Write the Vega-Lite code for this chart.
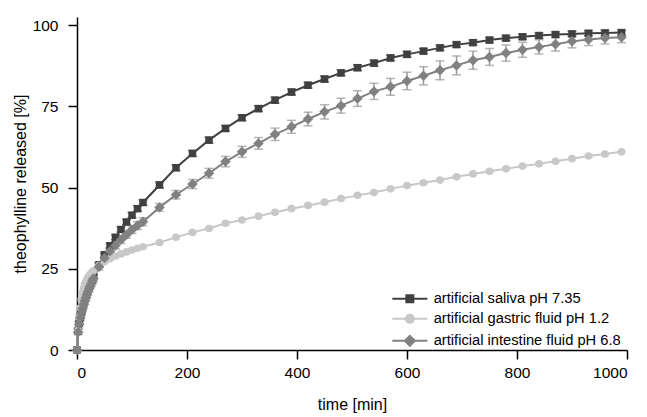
{
"$schema": "https://vega.github.io/schema/vega-lite/v6.json",
"width": 550, "height": 333,
"autosize": "none",
"padding": {"left": 77, "top": 17, "right": 20, "bottom": 67},
"background": "white",
"config": {
  "view": {"stroke": null},
  "font": "Liberation Sans",
  "axis": {"grid": false, "ticks": true, "domainColor": "#000", "domainWidth": 1.5, "tickColor": "#000", "tickWidth": 1.5, "tickSize": 9,
    "labelFont": "Liberation Sans", "labelFontSize": 15.5, "labelColor": "#000", "labelPadding": 6,
    "titleFont": "Liberation Sans", "titleFontSize": 16, "titleFontWeight": "normal", "titleColor": "#000"},
  "legend": {"labelFont": "Liberation Sans", "labelFontSize": 14.7, "labelColor": "#000", "labelLimit": 400}
},
"data": {"values": [
{"s":"artificial saliva pH 7.35","t":0,"v":0,"e":0},{"s":"artificial saliva pH 7.35","t":2,"v":5.9,"e":0.5},{"s":"artificial saliva pH 7.35","t":4,"v":8.3,"e":0.5},{"s":"artificial saliva pH 7.35","t":6,"v":10.2,"e":0.5},{"s":"artificial saliva pH 7.35","t":8,"v":11.7,"e":0.5},{"s":"artificial saliva pH 7.35","t":10,"v":13.1,"e":0.5},{"s":"artificial saliva pH 7.35","t":12,"v":14.4,"e":0.5},{"s":"artificial saliva pH 7.35","t":14,"v":15.5,"e":0.5},{"s":"artificial saliva pH 7.35","t":16,"v":16.6,"e":0.5},{"s":"artificial saliva pH 7.35","t":18,"v":17.6,"e":0.5},{"s":"artificial saliva pH 7.35","t":20,"v":18.6,"e":0.5},{"s":"artificial saliva pH 7.35","t":22,"v":19.5,"e":0.5},{"s":"artificial saliva pH 7.35","t":24,"v":20.3,"e":0.5},{"s":"artificial saliva pH 7.35","t":26,"v":21.2,"e":0.5},{"s":"artificial saliva pH 7.35","t":28,"v":22.0,"e":0.5},{"s":"artificial saliva pH 7.35","t":30,"v":22.7,"e":0.6},{"s":"artificial saliva pH 7.35","t":40,"v":26.2,"e":0.7},{"s":"artificial saliva pH 7.35","t":50,"v":29.3,"e":0.7},{"s":"artificial saliva pH 7.35","t":60,"v":32.1,"e":0.7},{"s":"artificial saliva pH 7.35","t":70,"v":34.7,"e":0.7},{"s":"artificial saliva pH 7.35","t":80,"v":37.1,"e":0.8},{"s":"artificial saliva pH 7.35","t":90,"v":39.4,"e":0.8},{"s":"artificial saliva pH 7.35","t":100,"v":41.5,"e":0.8},{"s":"artificial saliva pH 7.35","t":110,"v":43.5,"e":0.8},{"s":"artificial saliva pH 7.35","t":120,"v":45.4,"e":0.8},{"s":"artificial saliva pH 7.35","t":150,"v":50.8,"e":0.9},{"s":"artificial saliva pH 7.35","t":180,"v":56.1,"e":0.9},{"s":"artificial saliva pH 7.35","t":210,"v":60.5,"e":0.9},{"s":"artificial saliva pH 7.35","t":240,"v":64.6,"e":0.9},{"s":"artificial saliva pH 7.35","t":270,"v":68.2,"e":0.9},{"s":"artificial saliva pH 7.35","t":300,"v":71.5,"e":0.9},{"s":"artificial saliva pH 7.35","t":330,"v":74.3,"e":0.9},{"s":"artificial saliva pH 7.35","t":360,"v":76.9,"e":0.9},{"s":"artificial saliva pH 7.35","t":390,"v":79.4,"e":0.9},{"s":"artificial saliva pH 7.35","t":420,"v":81.5,"e":0.9},{"s":"artificial saliva pH 7.35","t":450,"v":83.4,"e":0.9},{"s":"artificial saliva pH 7.35","t":480,"v":85.3,"e":0.9},{"s":"artificial saliva pH 7.35","t":510,"v":86.9,"e":0.9},{"s":"artificial saliva pH 7.35","t":540,"v":88.3,"e":0.9},{"s":"artificial saliva pH 7.35","t":570,"v":89.9,"e":0.9},{"s":"artificial saliva pH 7.35","t":600,"v":91.0,"e":0.9},{"s":"artificial saliva pH 7.35","t":630,"v":92.0,"e":0.8},{"s":"artificial saliva pH 7.35","t":660,"v":93.0,"e":0.8},{"s":"artificial saliva pH 7.35","t":690,"v":94.0,"e":0.8},{"s":"artificial saliva pH 7.35","t":720,"v":94.6,"e":0.8},{"s":"artificial saliva pH 7.35","t":750,"v":95.4,"e":0.8},{"s":"artificial saliva pH 7.35","t":780,"v":96.0,"e":0.8},{"s":"artificial saliva pH 7.35","t":810,"v":96.4,"e":0.8},{"s":"artificial saliva pH 7.35","t":840,"v":96.8,"e":0.8},{"s":"artificial saliva pH 7.35","t":870,"v":97.1,"e":0.8},{"s":"artificial saliva pH 7.35","t":900,"v":97.3,"e":0.8},{"s":"artificial saliva pH 7.35","t":930,"v":97.5,"e":0.8},{"s":"artificial saliva pH 7.35","t":960,"v":97.6,"e":0.8},{"s":"artificial saliva pH 7.35","t":990,"v":97.7,"e":0.8},
{"s":"artificial gastric fluid pH 1.2","t":0,"v":0,"e":0},{"s":"artificial gastric fluid pH 1.2","t":2,"v":6.0,"e":0.4},{"s":"artificial gastric fluid pH 1.2","t":4,"v":10.0,"e":0.4},{"s":"artificial gastric fluid pH 1.2","t":6,"v":13.0,"e":0.4},{"s":"artificial gastric fluid pH 1.2","t":8,"v":15.5,"e":0.4},{"s":"artificial gastric fluid pH 1.2","t":10,"v":17.5,"e":0.4},{"s":"artificial gastric fluid pH 1.2","t":12,"v":19.0,"e":0.4},{"s":"artificial gastric fluid pH 1.2","t":14,"v":20.2,"e":0.4},{"s":"artificial gastric fluid pH 1.2","t":16,"v":21.0,"e":0.4},{"s":"artificial gastric fluid pH 1.2","t":18,"v":21.7,"e":0.4},{"s":"artificial gastric fluid pH 1.2","t":20,"v":22.3,"e":0.4},{"s":"artificial gastric fluid pH 1.2","t":22,"v":22.8,"e":0.4},{"s":"artificial gastric fluid pH 1.2","t":24,"v":23.2,"e":0.4},{"s":"artificial gastric fluid pH 1.2","t":26,"v":23.6,"e":0.4},{"s":"artificial gastric fluid pH 1.2","t":28,"v":24.0,"e":0.4},{"s":"artificial gastric fluid pH 1.2","t":30,"v":24.4,"e":0.4},{"s":"artificial gastric fluid pH 1.2","t":40,"v":26.0,"e":0.4},{"s":"artificial gastric fluid pH 1.2","t":50,"v":27.2,"e":0.4},{"s":"artificial gastric fluid pH 1.2","t":60,"v":28.1,"e":0.4},{"s":"artificial gastric fluid pH 1.2","t":70,"v":28.9,"e":0.4},{"s":"artificial gastric fluid pH 1.2","t":80,"v":29.6,"e":0.4},{"s":"artificial gastric fluid pH 1.2","t":90,"v":30.2,"e":0.4},{"s":"artificial gastric fluid pH 1.2","t":100,"v":30.8,"e":0.4},{"s":"artificial gastric fluid pH 1.2","t":110,"v":31.3,"e":0.4},{"s":"artificial gastric fluid pH 1.2","t":120,"v":31.8,"e":0.4},{"s":"artificial gastric fluid pH 1.2","t":150,"v":33.1,"e":0.4},{"s":"artificial gastric fluid pH 1.2","t":180,"v":34.7,"e":0.4},{"s":"artificial gastric fluid pH 1.2","t":210,"v":36.2,"e":0.4},{"s":"artificial gastric fluid pH 1.2","t":240,"v":37.4,"e":0.4},{"s":"artificial gastric fluid pH 1.2","t":270,"v":39.0,"e":0.4},{"s":"artificial gastric fluid pH 1.2","t":300,"v":40.0,"e":0.4},{"s":"artificial gastric fluid pH 1.2","t":330,"v":41.2,"e":0.4},{"s":"artificial gastric fluid pH 1.2","t":360,"v":42.4,"e":0.4},{"s":"artificial gastric fluid pH 1.2","t":390,"v":43.5,"e":0.4},{"s":"artificial gastric fluid pH 1.2","t":420,"v":44.5,"e":0.4},{"s":"artificial gastric fluid pH 1.2","t":450,"v":45.5,"e":0.4},{"s":"artificial gastric fluid pH 1.2","t":480,"v":46.6,"e":0.4},{"s":"artificial gastric fluid pH 1.2","t":510,"v":47.6,"e":0.4},{"s":"artificial gastric fluid pH 1.2","t":540,"v":48.5,"e":0.4},{"s":"artificial gastric fluid pH 1.2","t":570,"v":49.6,"e":0.4},{"s":"artificial gastric fluid pH 1.2","t":600,"v":50.6,"e":0.4},{"s":"artificial gastric fluid pH 1.2","t":630,"v":51.5,"e":0.4},{"s":"artificial gastric fluid pH 1.2","t":660,"v":52.3,"e":0.4},{"s":"artificial gastric fluid pH 1.2","t":690,"v":53.3,"e":0.4},{"s":"artificial gastric fluid pH 1.2","t":720,"v":54.2,"e":0.4},{"s":"artificial gastric fluid pH 1.2","t":750,"v":55.0,"e":0.4},{"s":"artificial gastric fluid pH 1.2","t":780,"v":55.8,"e":0.4},{"s":"artificial gastric fluid pH 1.2","t":810,"v":56.6,"e":0.4},{"s":"artificial gastric fluid pH 1.2","t":840,"v":57.3,"e":0.4},{"s":"artificial gastric fluid pH 1.2","t":870,"v":58.1,"e":0.4},{"s":"artificial gastric fluid pH 1.2","t":900,"v":58.9,"e":0.4},{"s":"artificial gastric fluid pH 1.2","t":930,"v":59.7,"e":0.4},{"s":"artificial gastric fluid pH 1.2","t":960,"v":60.3,"e":0.4},{"s":"artificial gastric fluid pH 1.2","t":990,"v":61.0,"e":0.4},
{"s":"artificial intestine fluid pH 6.8","t":0,"v":0,"e":0},{"s":"artificial intestine fluid pH 6.8","t":2,"v":5.5,"e":0.8},{"s":"artificial intestine fluid pH 6.8","t":4,"v":8.0,"e":0.8},{"s":"artificial intestine fluid pH 6.8","t":6,"v":9.9,"e":0.9},{"s":"artificial intestine fluid pH 6.8","t":8,"v":11.5,"e":0.9},{"s":"artificial intestine fluid pH 6.8","t":10,"v":12.8,"e":0.9},{"s":"artificial intestine fluid pH 6.8","t":12,"v":14.0,"e":0.9},{"s":"artificial intestine fluid pH 6.8","t":14,"v":15.1,"e":1.0},{"s":"artificial intestine fluid pH 6.8","t":16,"v":16.1,"e":1.0},{"s":"artificial intestine fluid pH 6.8","t":18,"v":17.1,"e":1.0},{"s":"artificial intestine fluid pH 6.8","t":20,"v":18.0,"e":1.0},{"s":"artificial intestine fluid pH 6.8","t":22,"v":18.9,"e":1.0},{"s":"artificial intestine fluid pH 6.8","t":24,"v":19.7,"e":1.0},{"s":"artificial intestine fluid pH 6.8","t":26,"v":20.5,"e":1.0},{"s":"artificial intestine fluid pH 6.8","t":28,"v":21.3,"e":1.0},{"s":"artificial intestine fluid pH 6.8","t":30,"v":22.0,"e":1.0},{"s":"artificial intestine fluid pH 6.8","t":40,"v":25.6,"e":1.0},{"s":"artificial intestine fluid pH 6.8","t":50,"v":28.3,"e":1.0},{"s":"artificial intestine fluid pH 6.8","t":60,"v":30.4,"e":1.0},{"s":"artificial intestine fluid pH 6.8","t":70,"v":32.2,"e":1.1},{"s":"artificial intestine fluid pH 6.8","t":80,"v":33.9,"e":1.1},{"s":"artificial intestine fluid pH 6.8","t":90,"v":35.5,"e":1.1},{"s":"artificial intestine fluid pH 6.8","t":100,"v":37.0,"e":1.1},{"s":"artificial intestine fluid pH 6.8","t":110,"v":38.3,"e":1.2},{"s":"artificial intestine fluid pH 6.8","t":120,"v":39.5,"e":1.2},{"s":"artificial intestine fluid pH 6.8","t":150,"v":43.9,"e":1.2},{"s":"artificial intestine fluid pH 6.8","t":180,"v":47.8,"e":1.3},{"s":"artificial intestine fluid pH 6.8","t":210,"v":51.1,"e":1.4},{"s":"artificial intestine fluid pH 6.8","t":240,"v":54.4,"e":1.5},{"s":"artificial intestine fluid pH 6.8","t":270,"v":58.0,"e":1.6},{"s":"artificial intestine fluid pH 6.8","t":300,"v":61.0,"e":1.7},{"s":"artificial intestine fluid pH 6.8","t":330,"v":63.6,"e":1.8},{"s":"artificial intestine fluid pH 6.8","t":360,"v":66.4,"e":1.9},{"s":"artificial intestine fluid pH 6.8","t":390,"v":68.7,"e":2.0},{"s":"artificial intestine fluid pH 6.8","t":420,"v":71.1,"e":2.1},{"s":"artificial intestine fluid pH 6.8","t":450,"v":73.3,"e":2.2},{"s":"artificial intestine fluid pH 6.8","t":480,"v":75.2,"e":2.3},{"s":"artificial intestine fluid pH 6.8","t":510,"v":77.4,"e":2.4},{"s":"artificial intestine fluid pH 6.8","t":540,"v":79.6,"e":2.5},{"s":"artificial intestine fluid pH 6.8","t":570,"v":81.0,"e":2.6},{"s":"artificial intestine fluid pH 6.8","t":600,"v":82.8,"e":2.7},{"s":"artificial intestine fluid pH 6.8","t":630,"v":84.4,"e":2.8},{"s":"artificial intestine fluid pH 6.8","t":660,"v":86.1,"e":2.9},{"s":"artificial intestine fluid pH 6.8","t":690,"v":87.6,"e":2.9},{"s":"artificial intestine fluid pH 6.8","t":720,"v":89.2,"e":2.8},{"s":"artificial intestine fluid pH 6.8","t":750,"v":90.2,"e":2.6},{"s":"artificial intestine fluid pH 6.8","t":780,"v":91.4,"e":2.5},{"s":"artificial intestine fluid pH 6.8","t":810,"v":92.4,"e":2.3},{"s":"artificial intestine fluid pH 6.8","t":840,"v":93.3,"e":2.2},{"s":"artificial intestine fluid pH 6.8","t":870,"v":94.1,"e":2.1},{"s":"artificial intestine fluid pH 6.8","t":900,"v":95.0,"e":2.0},{"s":"artificial intestine fluid pH 6.8","t":930,"v":95.6,"e":1.9},{"s":"artificial intestine fluid pH 6.8","t":960,"v":96.0,"e":1.8},{"s":"artificial intestine fluid pH 6.8","t":990,"v":96.3,"e":1.7}
]},
"encoding": {
  "x": {"field": "t", "type": "quantitative", "scale": {"domain": [0, 1000], "nice": false},
        "axis": {"values": [0, 200, 400, 600, 800, 1000], "format": "d", "title": "time [min]", "titlePadding": 16}},
  "y": {"field": "v", "type": "quantitative", "scale": {"domain": [0, 102.5], "nice": false},
        "axis": {"values": [0, 25, 50, 75, 100], "title": "theophylline released [%]", "labelPadding": 10, "titlePadding": 4}}
},
"layer": [
  {"transform": [{"filter": "datum.s === 'artificial saliva pH 7.35'"}],
   "mark": {"type": "errorbar", "ticks": {"size": 9}, "color": "#404040", "thickness": 1.5},
   "encoding": {"yError": {"field": "e"}}},
  {"transform": [{"filter": "datum.s === 'artificial gastric fluid pH 1.2'"}],
   "mark": {"type": "errorbar", "ticks": {"size": 8}, "color": "#c8c8c8", "thickness": 1.5},
   "encoding": {"yError": {"field": "e"}}},
  {"transform": [{"filter": "datum.s === 'artificial intestine fluid pH 6.8'"}],
   "mark": {"type": "errorbar", "ticks": {"size": 9}, "color": "#999999", "thickness": 1.5},
   "encoding": {"yError": {"field": "e"}}},
  {"mark": {"type": "line", "strokeWidth": 2},
   "encoding": {
     "color": {"field": "s", "type": "nominal",
       "scale": {"domain": ["artificial saliva pH 7.35", "artificial gastric fluid pH 1.2", "artificial intestine fluid pH 6.8"], "range": ["#404040", "#c8c8c8", "#818181"]},
       "legend": {"orient": "none", "legendX": 325.5, "legendY": 274.5, "title": null, "symbolSize": 100, "labelOffset": 16.5, "rowPadding": 4, "padding": 0,
         "encode": {"symbols": {"update": {
           "shape": {"signal": "datum.value === 'artificial saliva pH 7.35' ? 'M-3.5,0H3.5M-0.7,-0.7H0.7V0.7H-0.7Z' : datum.value === 'artificial gastric fluid pH 1.2' ? 'M-3.5,0H3.5M0.8,0A0.8,0.8,0,1,1,-0.8,0A0.8,0.8,0,1,1,0.8,0Z' : 'M-3.5,0H3.5M0,-1L1,0L0,1L-1,0Z'"},
           "fill": {"signal": "scale('color', datum.value)"},
           "stroke": {"signal": "scale('color', datum.value)"},
           "strokeWidth": {"value": 2},
           "opacity": {"value": 1}}}}}}
   }},
  {"transform": [{"filter": "datum.s === 'artificial saliva pH 7.35'"}],
   "mark": {"type": "point", "shape": "square", "filled": true, "opacity": 1, "size": 56, "color": "#404040"}},
  {"transform": [{"filter": "datum.s === 'artificial gastric fluid pH 1.2'"}],
   "mark": {"type": "point", "shape": "circle", "filled": true, "opacity": 1, "size": 58, "color": "#c8c8c8"}},
  {"transform": [{"filter": "datum.s === 'artificial intestine fluid pH 6.8'"}],
   "mark": {"type": "point", "shape": "diamond", "filled": true, "opacity": 1, "size": 110, "color": "#818181"}}
]
}
